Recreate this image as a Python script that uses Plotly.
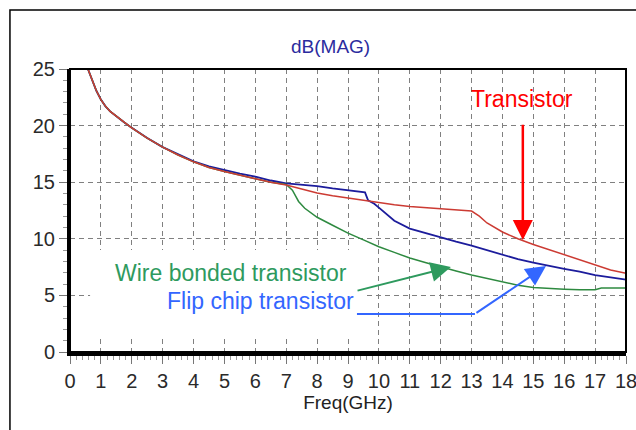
import plotly.graph_objects as go

# ---------------- data ----------------
freq_transistor = [0.58, 0.7, 0.85, 1.0, 1.15, 1.3, 1.5, 1.75, 2.0, 2.5, 3.0, 3.5, 4.0, 4.5, 5.0, 5.5, 6.0,
                   6.5, 7.0, 7.5, 8.0, 8.5, 9.0, 9.5, 10.0, 10.5, 11.0, 11.5, 12.0, 12.5, 13.0,
                   13.25, 13.5, 14.0, 14.5, 15.0, 15.5, 16.0, 16.5, 17.0, 17.5, 18.0]
gain_transistor = [25.0, 24.1, 23.1, 22.3, 21.7, 21.25, 20.8, 20.3, 19.8, 18.9, 18.1, 17.4, 16.8, 16.3, 15.95, 15.6, 15.3,
                   15.0, 14.75, 14.4, 14.05, 13.8, 13.6, 13.35, 13.15, 13.0, 12.85, 12.75, 12.65, 12.55, 12.45,
                   12.0, 11.4, 10.6, 10.0, 9.5, 9.05, 8.6, 8.15, 7.65, 7.25, 6.95]

freq_flip = [0.58, 0.7, 0.85, 1.0, 1.15, 1.3, 1.5, 1.75, 2.0, 2.5, 3.0, 3.5, 4.0, 4.5, 5.0, 5.5, 6.0,
             6.5, 7.0, 7.5, 8.0, 8.5, 9.0, 9.55, 9.65, 9.85, 10.0, 10.25, 10.5, 11.0, 11.5, 12.0,
             12.5, 13.0, 13.5, 14.0, 14.5, 15.0, 15.5, 16.0, 16.5, 17.0, 17.5, 18.0]
gain_flip = [25.0, 24.1, 23.1, 22.3, 21.7, 21.25, 20.8, 20.3, 19.8, 18.9, 18.1, 17.45, 16.85, 16.4, 16.05, 15.75, 15.5,
             15.15, 14.9, 14.8, 14.65, 14.45, 14.3, 14.1, 13.4, 13.1, 12.75, 12.2, 11.6, 10.9, 10.5, 10.1,
             9.75, 9.4, 9.0, 8.6, 8.2, 7.9, 7.6, 7.35, 7.1, 6.8, 6.6, 6.4]

freq_wire = [0.58, 0.7, 0.85, 1.0, 1.15, 1.3, 1.5, 1.75, 2.0, 2.5, 3.0, 3.5, 4.0, 4.5, 5.0, 5.5, 6.0,
             6.5, 7.0, 7.2, 7.4, 7.6, 8.0, 8.5, 9.0, 9.5, 10.0, 10.5, 11.0, 11.5, 12.0, 12.5,
             13.0, 13.5, 14.0, 14.5, 15.0, 15.5, 16.0, 16.5, 17.0, 17.2, 18.0]
gain_wire = [25.0, 24.1, 23.1, 22.3, 21.7, 21.25, 20.8, 20.3, 19.8, 18.9, 18.1, 17.4, 16.8, 16.3, 15.95, 15.6, 15.3,
             15.0, 14.8, 14.3, 13.3, 12.7, 11.9, 11.2, 10.5, 9.9, 9.3, 8.8, 8.3, 7.9, 7.5, 7.15,
             6.8, 6.5, 6.2, 5.9, 5.7, 5.6, 5.55, 5.5, 5.5, 5.65, 5.65]

x_ticks = list(range(0, 19))
y_ticks = [0, 5, 10, 15, 20, 25]

# ---------------- figure ----------------
fig = go.Figure()
fig.add_trace(go.Scatter(x=freq_flip, y=gain_flip, mode="lines",
                         line=dict(color="#1c1c9c", width=1.8), name="Flip chip transistor"))
fig.add_trace(go.Scatter(x=freq_wire, y=gain_wire, mode="lines",
                         line=dict(color="#2e8a40", width=1.5), name="Wire bonded transistor"))
fig.add_trace(go.Scatter(x=freq_transistor, y=gain_transistor, mode="lines",
                         line=dict(color="#cc3b33", width=1.5), name="Transistor"))

FONT = "Arial, Liberation Sans, sans-serif"

fig.update_layout(
    width=636, height=430,
    margin=dict(l=70, r=10, t=69, b=78),
    paper_bgcolor="white", plot_bgcolor="white",
    showlegend=False,
    font=dict(family=FONT, color="#222222"),
    xaxis=dict(range=[0, 18], tickvals=x_ticks, showgrid=True, gridcolor="#808080",
               griddash="5px,4px", gridwidth=1, zeroline=False, automargin=False,
               showline=True, linecolor="black", linewidth=4,
               ticks="outside", ticklen=8, tickcolor="#777777", tickwidth=1,
               ticklabeloverflow="allow",
               minor=dict(dtick=0.2, ticks="outside", ticklen=4, tickcolor="#999999", showgrid=False),
               tickfont=dict(size=20, family=FONT, color="#2a2a2a"),
               title=dict(text="Freq(GHz)", font=dict(size=19, family=FONT, color="#222222"), standoff=2)),
    yaxis=dict(range=[0, 25], tickvals=y_ticks, showgrid=True, gridcolor="#808080",
               griddash="5px,4px", gridwidth=1, zeroline=False, automargin=False,
               showline=True, linecolor="black", linewidth=3,
               ticks="outside", ticklen=8, tickcolor="#777777", tickwidth=1,
               ticklabeloverflow="allow",
               minor=dict(dtick=1, ticks="outside", ticklen=4, tickcolor="#999999", showgrid=False),
               tickfont=dict(size=20, family=FONT, color="#2a2a2a")),
)

# white patch behind annotation text (hides grid there)
fig.add_shape(type="rect", xref="x", yref="y", x0=0.65, x1=9.55, y0=1.5, y1=9.0,
              fillcolor="white", line=dict(width=0), layer="between")
# thin top/right plot border
fig.add_shape(type="rect", xref="x domain", yref="y domain", x0=0, x1=1, y0=0, y1=1,
              line=dict(color="black", width=2), layer="above")
# outer frame
fig.add_shape(type="rect", xref="paper", yref="paper", x0=-0.108, x1=1.2, y0=-0.5, y1=1.2085,
              line=dict(color="black", width=1.5), layer="below")

# title
fig.add_annotation(text="dB(MAG)", xref="paper", yref="paper", x=0.468, y=1.081,
                   xanchor="center", yanchor="middle", showarrow=False,
                   font=dict(size=19, family=FONT, color="#2b2b9e"))

# labels
fig.add_annotation(text="Transistor", x=14.63, y=22.35, xref="x", yref="y", showarrow=False,
                   xanchor="center", yanchor="middle", font=dict(size=23, family=FONT, color="#ff0000"))
fig.add_annotation(text="Wire bonded transistor", x=5.21, y=6.98, xref="x", yref="y", showarrow=False,
                   xanchor="center", yanchor="middle", font=dict(size=23, family=FONT, color="#2e9a5e"))
fig.add_annotation(text="Flip chip transistor", x=6.18, y=4.5, xref="x", yref="y", showarrow=False,
                   xanchor="center", yanchor="middle", font=dict(size=23, family=FONT, color="#3366ff"))

# arrows
fig.add_annotation(text="", x=14.66, y=9.89, ax=14.66, ay=20.2, xref="x", yref="y", axref="x", ayref="y",
                   showarrow=True, arrowhead=2, arrowwidth=2.5, arrowsize=1.6, arrowcolor="#ff0000", standoff=0)
fig.add_annotation(text="", x=12.33, y=7.51, ax=9.26, ay=5.39, xref="x", yref="y", axref="x", ayref="y",
                   showarrow=True, arrowhead=2, arrowwidth=2, arrowsize=2, arrowcolor="#2e9a5e", standoff=0)
fig.add_shape(type="line", xref="x", yref="y", x0=9.29, x1=13.11, y0=3.36, y1=3.36,
              line=dict(color="#3366ff", width=2), layer="above")
fig.add_annotation(text="", x=15.41, y=7.6, ax=13.11, ay=3.36, xref="x", yref="y", axref="x", ayref="y",
                   showarrow=True, arrowhead=2, arrowwidth=2, arrowsize=2, arrowcolor="#3366ff", standoff=0)

fig.write_html("out.html")
